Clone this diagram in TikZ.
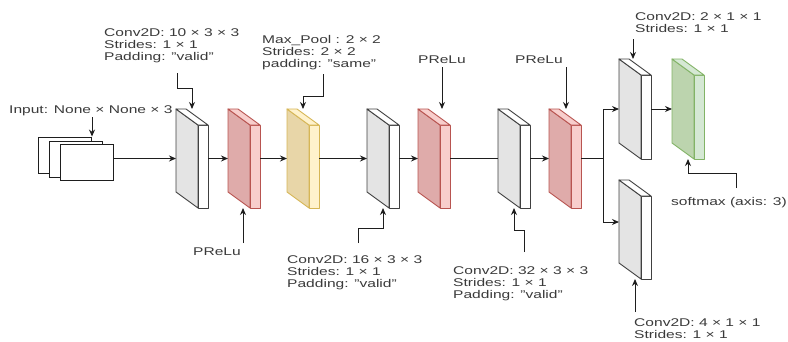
\documentclass[tikz,border=0pt]{standalone}
\usepackage{fontspec}
\setmainfont{Liberation Sans}[FakeStretch=1.39]
\usetikzlibrary{arrows.meta,calc}
\definecolor{labc}{HTML}{3A3A3A}
\definecolor{linec}{HTML}{1E1E1E}
\definecolor{grayB}{HTML}{404040}\definecolor{grayF}{HTML}{E4E4E4}\definecolor{grayS}{HTML}{FFFFFF}
\definecolor{redB}{HTML}{B85450}\definecolor{redF}{HTML}{DFABAA}\definecolor{redS}{HTML}{F8CECC}
\definecolor{yelB}{HTML}{D6B656}\definecolor{yelF}{HTML}{E8D6A8}\definecolor{yelS}{HTML}{FFF2CC}
\definecolor{grnB}{HTML}{82B366}\definecolor{grnF}{HTML}{BCD4AE}\definecolor{grnS}{HTML}{D5E8D4}
\newcommand\labfont{\fontsize{11.2}{12}\selectfont}
% name, x0, y0, height, colour prefix
\newcommand\slab[5]{%
  \node[inner sep=0pt,outer sep=0pt,minimum width=32pt,minimum height=#4pt] (#1) at ({#2+16},{#3+#4/2}) {};
  \filldraw[draw=#5B,fill=#5F,line width=0.9pt,line join=round] (#2,#3) -- ({#2+22},{#3+16}) -- ({#2+22},{#3+#4}) -- (#2,{#3+#4-16}) -- cycle;
  \filldraw[draw=#5B,fill=#5S,line width=0.9pt,line join=round] ({#2+22},{#3+16}) -- ({#2+32},{#3+16}) -- ({#2+32},{#3+#4}) -- ({#2+22},{#3+#4}) -- cycle;
  \filldraw[draw=#5B,fill=#5S,line width=0.9pt,line join=round] (#2,#3) -- ({#2+10},#3) -- ({#2+32},{#3+16}) -- ({#2+22},{#3+16}) -- cycle;
}
\tikzset{
  lab/.style={font=\labfont,text=labc,align=left,inner sep=0pt,anchor=north west},
  conn/.style={draw=linec,line width=1pt},
  arr/.style={conn,-{Stealth[length=7pt,width=6pt]}},
  inrect/.style={draw=linec,fill=white,line width=0.9pt,minimum width=53pt,minimum height=36pt,inner sep=0pt}
}
\begin{document}
\begin{tikzpicture}[x=1pt,y=-1pt]
\useasboundingbox (0,0) rectangle (788,341);
% input stack
\node[inrect] (in1) at (65,155) {};
\node[inrect] (in2) at (75.5,159) {};
\node[inrect] (in3) at (86.5,162.5) {};
% slabs
\slab{g1}{176}{109}{99}{gray}
\slab{r1}{228}{109}{99}{red}
\slab{y1}{287}{109}{99}{yel}
\slab{g2}{367}{109}{99}{gray}
\slab{r2}{418}{109}{99}{red}
\slab{g3}{498}{109}{99}{gray}
\slab{r3}{549}{109}{99}{red}
\slab{g4}{619}{59}{100}{gray}
\slab{gr}{672}{59}{100}{grn}
\slab{g5}{619}{180}{99}{gray}
% labels
\node[lab] (tin) at (9,105.5) {Input: None × None × 3};
\node[lab] (t1) at (104,28.5) {Conv2D: 10 × 3 × 3\\Strides: 1 × 1\\Padding: "valid"};
\node[lab] (t2) at (262,35.5) {Max\_Pool : 2 × 2\\Strides: 2 × 2\\padding: "same"};
\node[lab] (t3) at (418,55.5) {PReLu};
\node[lab] (t4) at (515,55.5) {PReLu};
\node[lab] (t5) at (193,247.5) {PReLu};
\node[lab] (t6) at (287,255.5) {Conv2D: 16 × 3 × 3\\Strides: 1 × 1\\Padding: "valid"};
\node[lab] (t7) at (453,266.5) {Conv2D: 32 × 3 × 3\\Strides: 1 × 1\\Padding: "valid"};
\node[lab] (t8) at (635,12.5) {Conv2D: 2 × 1 × 1\\Strides: 1 × 1};
\node[lab] (t9) at (671,197.5) {softmax (axis: 3)};
\node[lab] (t10) at (634,318.5) {Conv2D: 4 × 1 × 1\\Strides: 1 × 1};
% label connector starts
\coordinate (cin) at (92,117);
\coordinate (c1) at (177,73);
\coordinate (c2) at (323,74);
\coordinate (c3) at (442,67);
\coordinate (c4) at (566,67);
\coordinate (c5) at (243,243);
\coordinate (c6) at (358,243);
\coordinate (c7) at (524,252);
\coordinate (c8) at (633,39);
\coordinate (c9) at (736,188);
\coordinate (c10) at (635,312);
\coordinate (br) at (603,158.5);
% main connectors
\draw[arr] (in3.east |- g1.west) -- (g1.west);
\draw[arr] (g1.east) -- (r1.west);
\draw[arr] (r1.east) -- (y1.west);
\draw[arr] (y1.east) -- (g2.west);
\draw[arr] (g2.east) -- (r2.west);
\draw[conn] (r2.east) -- (g3.west);
\draw[arr] (g3.east) -- (r3.west);
\draw[conn] (r3.east) -- (br);
\draw[arr] (br) |- (g4.west);
\draw[arr] (br) |- ([yshift=7.5pt]g5.west);
\draw[arr] (g4.east) -- (gr.west);
% label connectors
\draw[arr] (cin) -- (cin |- in1.north);
\draw[arr] (c1) -- ++(0,15) -| (g1.north);
\draw[arr] (c2) -- ++(0,22) -| (y1.north);
\draw[arr] (c3) -- (c3 |- r2.north);
\draw[arr] (c4) -- (c4 |- r3.north);
\draw[arr] (c5) -- (c5 |- r1.south);
\draw[arr] (c6) -- ++(0,-15) -| (g2.south);
\draw[arr] (c7) -- ++(0,-22) -| (g3.south);
\draw[arr] (c8) -- (c8 |- g4.north);
\draw[arr] (c9) -- ++(0,-15) -| (gr.south);
\draw[arr] (c10) -- (c10 |- g5.south);
\end{tikzpicture}
\end{document}
